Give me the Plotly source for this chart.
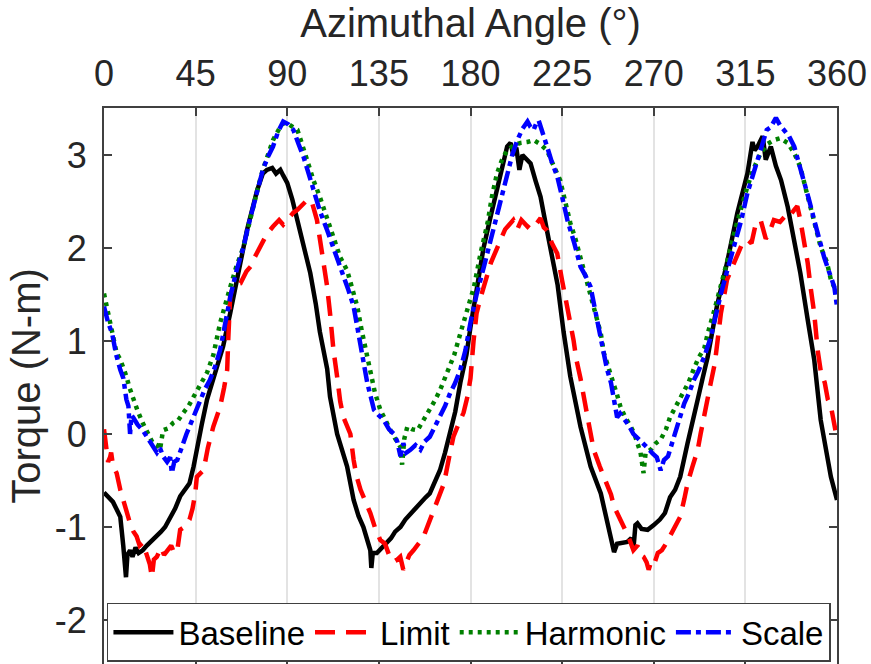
import plotly.graph_objects as go

# ---------------- data ----------------
baseline_angle = [0, 2, 4.4, 6, 8, 9.5, 10.8, 11.5, 12.8, 14, 15.5, 17, 19, 21, 23, 26, 28, 30, 32.5, 35,
                  37.4, 40, 42, 44, 45.5, 48, 50.6, 53.7, 56, 58.5, 62, 65.4, 70.2, 75.2, 78, 80, 82.6, 84.5,
                  86.6, 88, 90, 92.5, 94.9, 98, 101.3, 104, 106, 109.6, 111, 114.5, 119.4, 122.6, 125, 127.4,
                  129.5, 130.8, 131.3, 132, 134, 136.5, 139, 141, 143, 145.6, 148, 150, 152, 155, 158, 160,
                  163, 165, 167.5, 170, 172.5, 175, 178, 180, 183, 186.4, 190, 193, 196, 198, 199.7, 201,
                  202.5, 204, 205.5, 207.5, 209.5, 212, 214.4, 217, 219.3, 222.8, 225.7, 229, 234, 239, 244,
                  247, 250.5, 252, 253.7, 257, 259, 260, 261, 262, 264, 267, 270, 273, 275.5, 278, 280.5,
                  283, 286.6, 289, 291.6, 294, 296.5, 301, 306, 311, 316, 318.5, 319.5, 321, 323.5, 325,
                  327.5, 330, 332.5, 335.8, 339, 342, 345.6, 348.8, 352, 355, 357, 360]
baseline_torque = [-0.63, -0.68, -0.73, -0.80, -0.89, -1.21, -1.54, -1.30, -1.25, -1.32, -1.22, -1.28, -1.25,
                   -1.20, -1.16, -1.10, -1.05, -1.00, -0.90, -0.80, -0.67, -0.60, -0.53, -0.35, -0.17, 0.10,
                   0.37, 0.60, 0.78, 0.94, 1.30, 1.66, 2.19, 2.62, 2.80, 2.84, 2.86, 2.80, 2.84, 2.78, 2.70,
                   2.52, 2.30, 2.02, 1.73, 1.40, 1.10, 0.70, 0.40, 0.00, -0.35, -0.71, -0.88, -1.00, -1.15,
                   -1.25, -1.44, -1.28, -1.28, -1.22, -1.17, -1.12, -1.05, -1.00, -0.92, -0.87, -0.82, -0.76,
                   -0.68, -0.64, -0.50, -0.39, -0.20, 0.00, 0.24, 0.55, 0.85, 1.15, 1.55, 2.00, 2.35, 2.62,
                   2.90, 3.09, 3.13, 3.00, 3.08, 2.84, 3.00, 2.95, 2.91, 2.72, 2.55, 2.25, 2.01, 1.60, 1.10,
                   0.62, 0.08, -0.35, -0.64, -0.92, -1.27, -1.18, -1.17, -1.16, -1.12, -1.24, -0.98, -0.96,
                   -1.02, -1.03, -0.98, -0.92, -0.85, -0.68, -0.60, -0.46, -0.10, 0.15, 0.37, 0.60, 0.83,
                   1.37, 1.84, 2.37, 2.80, 3.14, 3.05, 3.09, 3.20, 2.95, 3.09, 2.88, 2.73, 2.44, 2.09, 1.73,
                   1.23, 0.80, 0.15, -0.20, -0.46, -0.71]

limit_angle = [0, 1, 2, 3, 3.5, 4.5, 6.2, 8, 9.5, 11, 12.8, 14.5, 16, 17.5, 19, 21, 22.5, 23.5, 24.5, 26,
               28, 29.5, 31, 33, 34.5, 36, 37.4, 39.5, 42, 43.5, 44.8, 45.6, 48.9, 51, 53.7, 57, 59, 60.5,
               61, 62, 64, 67, 70, 72, 74, 76.7, 80, 83, 86, 88, 90, 93, 95, 98, 100, 102, 104.6, 106,
               107.9, 109.5, 111, 112.7, 114.6, 116, 117.6, 119, 121, 122.6, 124, 126, 128.5, 130.8, 133,
               135.7, 138, 140, 142, 144, 145.5, 147, 148.5, 150, 152, 154, 155.5, 157, 159.5, 162, 164.5,
               167, 169.5, 171.6, 174, 176.6, 178.5, 180, 181.5, 183, 185, 187.5, 190, 192.5, 194.8, 197,
               199, 201, 203, 205, 208, 210, 212, 214.4, 216, 217.6, 220, 222.6, 225, 227.6, 230.6, 232,
               234, 237.5, 240.5, 243.5, 247, 249, 250.5, 253, 255.4, 257.5, 260, 262, 263.5, 265, 266.5,
               267.5, 269, 270.5, 272, 274, 276, 278, 280.5, 283, 285, 286.6, 289, 291.6, 293, 294.8, 296.5,
               298, 300, 301.5, 303, 306, 308.5, 311, 313.5, 316, 318, 320, 322.5, 325, 326.5, 329, 332,
               335.7, 337, 339, 340.5, 342, 344, 345.6, 347.2, 348.8, 350.5, 352, 354, 355.5, 357, 358.7, 360]
limit_torque = [0.05, -0.10, -0.30, -0.25, -0.20, -0.35, -0.42, -0.60, -0.71, -0.85, -0.96, -1.05, -1.10,
                -1.20, -1.17, -1.30, -1.40, -1.54, -1.35, -1.32, -1.22, -1.30, -1.25, -1.20, -1.28, -1.25,
                -1.03, -1.00, -0.92, -0.80, -0.64, -0.46, -0.39, -0.15, 0.08, 0.29, 0.50, 0.69, 1.00, 1.50,
                1.60, 1.62, 1.75, 1.80, 1.90, 2.01, 2.15, 2.23, 2.30, 2.25, 2.30, 2.38, 2.41, 2.48, 2.52,
                2.50, 2.30, 2.10, 1.84, 1.60, 1.30, 0.90, 0.60, 0.35, 0.18, 0.10, 0.00, -0.28, -0.45, -0.60,
                -0.72, -0.85, -1.00, -1.14, -1.18, -1.30, -1.28, -1.35, -1.32, -1.46, -1.38, -1.30, -1.25,
                -1.20, -1.15, -1.10, -0.95, -0.82, -0.68, -0.53, -0.25, -0.03, 0.10, 0.23, 0.40, 0.60, 1.00,
                1.30, 1.47, 1.65, 1.84, 1.97, 2.09, 2.20, 2.25, 2.30, 2.20, 2.30, 2.23, 2.28, 2.25, 2.32,
                2.22, 2.19, 2.05, 1.94, 1.65, 1.37, 1.01, 0.80, 0.60, 0.18, -0.17, -0.35, -0.53, -0.65,
                -0.78, -0.90, -1.00, -1.10, -1.25, -1.20, -1.30, -1.32, -1.38, -1.46, -1.35, -1.38, -1.28,
                -1.25, -1.18, -1.10, -1.00, -0.89, -0.70, -0.53, -0.35, -0.17, 0.00, 0.18, 0.35, 0.55, 0.76,
                1.00, 1.30, 1.66, 1.80, 1.94, 2.05, 2.09, 2.05, 2.25, 2.30, 2.10, 2.15, 2.30, 2.28, 2.37,
                2.35, 2.41, 2.45, 2.30, 2.05, 1.84, 1.55, 1.30, 0.90, 0.68, 0.55, 0.37, 0.30, 0.08, -0.05]

harmonic_angle = [0, 2, 4.6, 6.2, 8, 9.5, 11, 12.5, 14, 16.5, 19, 21.5, 24, 26, 27.5, 29, 31.5, 34, 36.5,
                  39, 41.5, 44, 46.5, 49, 50.6, 53.7, 57, 62, 65, 68.5, 71, 73.4, 76, 78, 80.5, 83, 86, 88,
                  90, 92.5, 95, 97.5, 100, 103, 106, 109, 112.7, 116, 119.4, 122, 124.4, 126.5, 129.3, 131,
                  133, 135.7, 138, 140.7, 143, 145.6, 146.4, 147.5, 149, 151.5, 154, 157, 160, 162.5, 165,
                  167.5, 170, 172, 175, 178, 181.7, 185, 188.4, 190.5, 193, 195.5, 198, 201, 204.6, 208, 211,
                  214, 217.6, 220.5, 224, 226.5, 229, 231.5, 234, 236.5, 239, 241.5, 244, 245.5, 248, 250.5,
                  252, 253.7, 256, 258.7, 260.5, 262, 263.5, 265, 266, 268.5, 271, 273.4, 276, 278, 281.5,
                  284.8, 287, 289.7, 292, 294.8, 296.5, 300, 303, 306, 309.5, 312.5, 316, 319, 322.5, 326,
                  329, 332, 335.7, 339, 342, 344.5, 347, 349.5, 352, 355, 357, 360]
harmonic_torque = [1.51, 1.30, 1.08, 0.87, 0.80, 0.72, 0.62, 0.50, 0.40, 0.25, 0.12, 0.02, -0.10, -0.12,
                   -0.17, 0.04, 0.06, 0.12, 0.15, 0.23, 0.30, 0.40, 0.50, 0.61, 0.66, 0.85, 1.19, 1.58, 1.80,
                   2.01, 2.25, 2.44, 2.68, 2.84, 3.00, 3.16, 3.28, 3.34, 3.34, 3.30, 3.27, 3.10, 2.91, 2.72,
                   2.55, 2.35, 2.09, 1.90, 1.76, 1.55, 1.37, 1.12, 0.83, 0.60, 0.45, 0.26, 0.15, 0.04, -0.05,
                   -0.14, -0.33, -0.05, 0.08, 0.05, 0.04, 0.15, 0.26, 0.36, 0.47, 0.60, 0.72, 0.85, 1.08,
                   1.32, 1.58, 1.95, 2.27, 2.55, 2.80, 2.95, 3.05, 3.10, 3.13, 3.14, 3.16, 3.12, 3.05, 2.90,
                   2.73, 2.50, 2.27, 2.10, 1.90, 1.70, 1.51, 1.30, 1.08, 0.87, 0.70, 0.55, 0.42, 0.29, 0.18,
                   0.08, 0.00, -0.10, -0.20, -0.42, -0.20, -0.17, -0.10, -0.06, 0.05, 0.18, 0.32, 0.44, 0.55,
                   0.70, 0.82, 0.92, 1.08, 1.35, 1.58, 1.85, 2.16, 2.40, 2.66, 2.85, 3.02, 3.12, 3.16, 3.18,
                   3.13, 3.02, 2.87, 2.65, 2.44, 2.20, 2.01, 1.85, 1.66, 1.51]

scale_angle = [0, 2, 4, 6, 8, 9.5, 11, 12, 12.8, 13.5, 14.3, 16.5, 19, 21.5, 24, 26, 27.5, 29, 31, 32.5,
               33.3, 34.5, 36, 37.5, 39, 40.5, 42, 44.5, 47, 49.5, 52, 54.5, 57, 59.5, 62, 65, 68.5, 71,
               73.4, 76, 78, 80.5, 83, 85.5, 88, 90.5, 93, 95.5, 98, 100.5, 103, 106, 109.6, 113.5, 117.6,
               120, 122.6, 125, 127.4, 129.3, 131, 132.6, 135, 137.4, 140, 142.4, 144, 145.6, 147, 148.5,
               150.5, 153, 155.4, 157.5, 160, 162.5, 165, 167.5, 170, 172.5, 175, 177.5, 180, 183, 186.6,
               190, 193, 195.5, 198, 200.5, 203, 205.5, 208, 209.5, 211, 212.5, 213.5, 215.5, 217.6, 220,
               222.6, 225, 227.6, 231, 234, 236.5, 239, 241.5, 244, 245.5, 247, 249, 250.5, 252, 253.5,
               255, 257.5, 260, 262.5, 265, 267, 269.4, 271.5, 273.4, 275, 277, 280, 282.5, 285, 287.5,
               289.7, 292, 294.8, 298, 300.5, 303, 306, 309.5, 313, 316, 319, 322.5, 325.5, 327.5, 330,
               332, 334, 336.5, 339, 341.5, 344, 346.5, 348.8, 351, 353.7, 356, 358.7, 360]
scale_torque = [1.37, 1.20, 1.08, 0.85, 0.69, 0.60, 0.37, 0.30, 0.00, 0.20, 0.18, 0.10, 0.04, -0.05, -0.14,
                -0.20, -0.15, -0.24, -0.30, -0.25, -0.42, -0.30, -0.28, -0.18, -0.10, 0.00, 0.08, 0.22,
                0.37, 0.48, 0.58, 0.72, 0.90, 1.20, 1.47, 1.75, 2.01, 2.25, 2.44, 2.68, 2.84, 2.98, 3.09,
                3.25, 3.36, 3.33, 3.27, 3.12, 2.98, 2.80, 2.62, 2.40, 2.19, 1.95, 1.73, 1.55, 1.37, 1.05,
                0.76, 0.55, 0.40, 0.26, 0.20, 0.15, 0.05, 0.00, -0.08, -0.24, -0.10, -0.20, -0.17, -0.12,
                -0.17, -0.08, -0.03, 0.08, 0.18, 0.30, 0.44, 0.55, 0.69, 0.90, 1.20, 1.50, 1.80, 2.10,
                2.37, 2.60, 2.80, 3.00, 3.16, 3.28, 3.36, 3.30, 3.27, 3.35, 3.37, 3.25, 3.09, 2.92, 2.77,
                2.55, 2.30, 2.05, 1.80, 1.70, 1.58, 1.30, 1.01, 0.85, 0.70, 0.55, 0.35, 0.18, 0.22, 0.18,
                0.10, 0.00, -0.05, -0.10, -0.15, -0.21, -0.25, -0.39, -0.28, -0.24, -0.03, 0.15, 0.33,
                0.45, 0.58, 0.68, 0.83, 1.04, 1.28, 1.51, 1.75, 2.01, 2.30, 2.59, 2.80, 3.02, 3.27, 3.30,
                3.40, 3.32, 3.27, 3.20, 3.09, 2.90, 2.73, 2.50, 2.30, 2.10, 1.90, 1.75, 1.58, 1.37]

x_ticks = [0, 45, 90, 135, 180, 225, 270, 315, 360]
y_ticks = [-2, -1, 0, 1, 2, 3]

# ---------------- figure ----------------
FONT = "Liberation Sans, Arial, Helvetica, sans-serif"
TXT = "#262626"
AX = "#404040"

fig = go.Figure()
fig.add_trace(go.Scatter(x=baseline_angle, y=baseline_torque, mode="lines", name="Baseline",
                         line=dict(color="black", width=4.5)))
fig.add_trace(go.Scatter(x=limit_angle, y=limit_torque, mode="lines", name="Limit",
                         line=dict(color="red", width=4.5, dash="20px,11px")))
fig.add_trace(go.Scatter(x=harmonic_angle, y=harmonic_torque, mode="lines", name="Harmonic",
                         line=dict(color="green", width=4.5, dash="4px,5px")))
fig.add_trace(go.Scatter(x=scale_angle, y=scale_torque, mode="lines", name="Scale",
                         line=dict(color="blue", width=4.5, dash="15px,5px,5px,5px")))
# invisible trace to host the bottom (mirrored) tick marks
fig.add_trace(go.Scatter(x=[x_ticks[0], x_ticks[-1]], y=[y_ticks[0], y_ticks[0]], xaxis="x2",
                         mode="lines", line=dict(width=0), showlegend=False, hoverinfo="skip"))

fig.update_layout(
    width=871, height=664,
    margin=dict(l=104, r=34, t=108, b=0),
    paper_bgcolor="white", plot_bgcolor="white",
    font=dict(family=FONT, color=TXT, size=36),
    xaxis=dict(
        side="top", range=[0, 360], tickmode="array", tickvals=x_ticks,
        ticktext=[str(v) for v in x_ticks],
        ticks="inside", ticklen=8, tickwidth=1.5, tickcolor=AX,
        showline=True, linecolor=AX, linewidth=2, mirror=False,
        showgrid=True, gridcolor="#e3e3e3", gridwidth=1.5, zeroline=False,
        tickfont=dict(size=36, color=TXT), ticklabelstandoff=6,
        title=dict(text="Azimuthal Angle (°)", font=dict(size=40, color=TXT), standoff=3),
    ),
    xaxis2=dict(
        overlaying="x", side="bottom", matches="x", range=[0, 360], tickmode="array",
        tickvals=x_ticks, ticks="inside", ticklen=8, tickwidth=1.5, tickcolor=AX,
        showticklabels=False, showline=False, showgrid=False, zeroline=False,
    ),
    yaxis=dict(
        range=[-2.473, 3.505], tickmode="array", tickvals=y_ticks,
        ticktext=[str(v) for v in y_ticks],
        ticks="inside", ticklen=8, tickwidth=1.5, tickcolor=AX,
        showline=True, linecolor=AX, linewidth=2, mirror="ticks",
        showgrid=False, zeroline=False,
        tickfont=dict(size=36, color=TXT), ticklabelstandoff=8,
        title=dict(text="Torque (N-m)", font=dict(size=40, color=TXT), standoff=2),
    ),
    legend=dict(
        orientation="h", x=0.004, y=0.004, xanchor="left", yanchor="bottom",
        bgcolor="white", bordercolor=AX, borderwidth=1.5,
        font=dict(size=33, color="black", family=FONT),
        itemwidth=60, tracegroupgap=0,
    ),
    showlegend=True,
)

fig.write_html("out.html")
